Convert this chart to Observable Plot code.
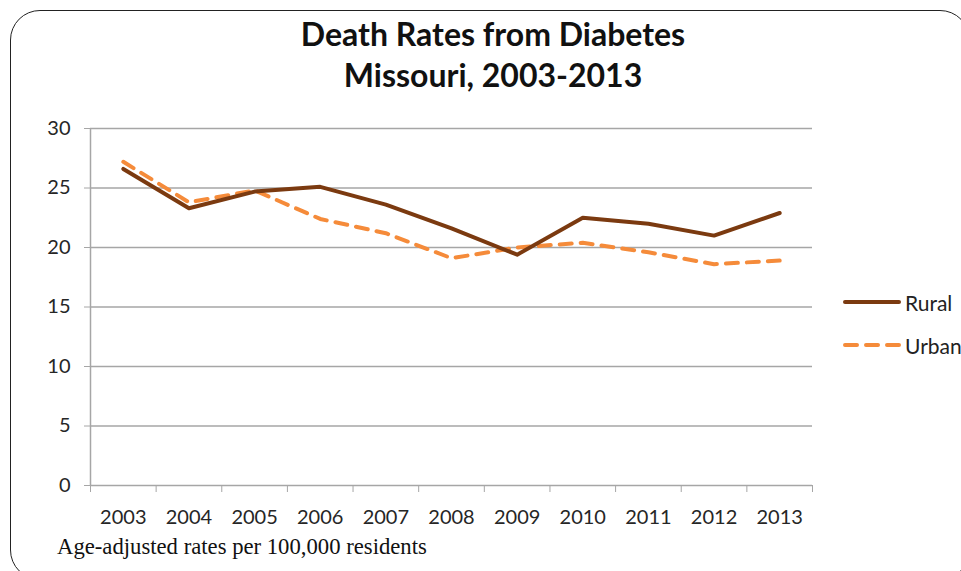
<!DOCTYPE html>
<html><head><meta charset="utf-8">
<script src="https://cdn.jsdelivr.net/npm/d3@7"></script>
<script src="https://cdn.jsdelivr.net/npm/@observablehq/plot@0.6"></script>
<style>
html,body{margin:0;padding:0;background:#fff;width:961px;height:571px;overflow:hidden;position:relative;}
#frame{position:absolute;left:10px;top:10px;width:960px;height:570px;border:1.5px solid #222;border-radius:30px;box-sizing:border-box;}
#title{position:absolute;left:0;width:986px;top:13px;text-align:center;font-family:Lato,"Open Sans",sans-serif;font-weight:bold;font-size:32px;line-height:41px;color:#111;}
#chart{position:absolute;left:0;top:0;}
#legend{position:absolute;left:843px;top:288px;font-family:Lato,sans-serif;font-size:21px;color:#222;white-space:nowrap;}
.li{display:flex;align-items:center;height:28px;margin-bottom:15px;}
.li svg{margin-right:4px;}
#caption{position:absolute;left:57px;top:534px;font-family:"Liberation Serif","DejaVu Serif",serif;font-size:22.7px;color:#111;white-space:nowrap;}
</style></head>
<body>
<div id="frame"></div>
<div id="title">Death Rates from Diabetes<br>Missouri, 2003-2013</div>
<div id="chart"></div>
<div id="legend"></div>
<div id="caption">Age-adjusted rates per 100,000 residents</div>
<script>
const years = [2003,2004,2005,2006,2007,2008,2009,2010,2011,2012,2013];
const rural = [26.6,23.3,24.7,25.1,23.6,21.6,19.4,22.5,22.0,21.0,22.9];
const urban = [27.2,23.8,24.8,22.4,21.2,19.1,20.0,20.4,19.6,18.6,18.9];
const yTicks = [0,5,10,15,20,25,30];
const seriesNames = ["Rural","Urban"];
const seriesColors = ["#7B3A10","#F58B3A"];

const data = [
  ...years.map((y,i)=>({year:y,value:rural[i],series:"Rural"})),
  ...years.map((y,i)=>({year:y,value:urban[i],series:"Urban"}))
];
const bounds = [...years.map(y=>y-0.5), years[years.length-1]+0.5];

const chart = Plot.plot({
  width:961, height:571,
  marginTop:128, marginBottom:86, marginLeft:90, marginRight:149,
  style:{fontFamily:"Lato, sans-serif", fontSize:"20px", color:"#262626", background:"transparent"},
  x:{type:"linear", domain:[bounds[0], bounds[bounds.length-1]]},
  y:{domain:[0,30]},
  marks:[
    Plot.gridY(yTicks.slice(1), {stroke:"#a6a6a6", strokeOpacity:1, strokeWidth:1.5}),
    Plot.ruleY([0], {stroke:"#a6a6a6", strokeWidth:1.5}),
    Plot.ruleX([bounds[0]], {stroke:"#a6a6a6", strokeWidth:1.5}),
    Plot.axisY(yTicks, {tickSize:6, tickPadding:14, stroke:"#a6a6a6", label:null, fill:"#262626"}),
    Plot.axisX(bounds, {tickSize:7, tickFormat:()=>"", stroke:"#a6a6a6", label:null}),
    Plot.axisX(years, {tickSize:0, tickPadding:24, tickFormat:d=>String(d), label:null, fill:"#262626"}),
    Plot.line(data.filter(d=>d.series==="Urban"), {x:"year", y:"value", stroke:seriesColors[1], strokeWidth:4, strokeDasharray:"12,9", strokeLinejoin:"round"}),
    Plot.line(data.filter(d=>d.series==="Rural"), {x:"year", y:"value", stroke:seriesColors[0], strokeWidth:4, strokeLinejoin:"round"})
  ]
});
document.getElementById("chart").appendChild(chart);

const leg = document.getElementById("legend");
seriesNames.forEach((n,i)=>{
  const d = document.createElement("div"); d.className="li";
  d.innerHTML = `<svg width="58" height="8"><line x1="2" y1="4" x2="56" y2="4" stroke="${seriesColors[i]}" stroke-width="4" ${i===1?'stroke-dasharray="12,9"':''} stroke-linecap="round"/></svg><span>${n}</span>`;
  leg.appendChild(d);
});
</script>
</body></html>
